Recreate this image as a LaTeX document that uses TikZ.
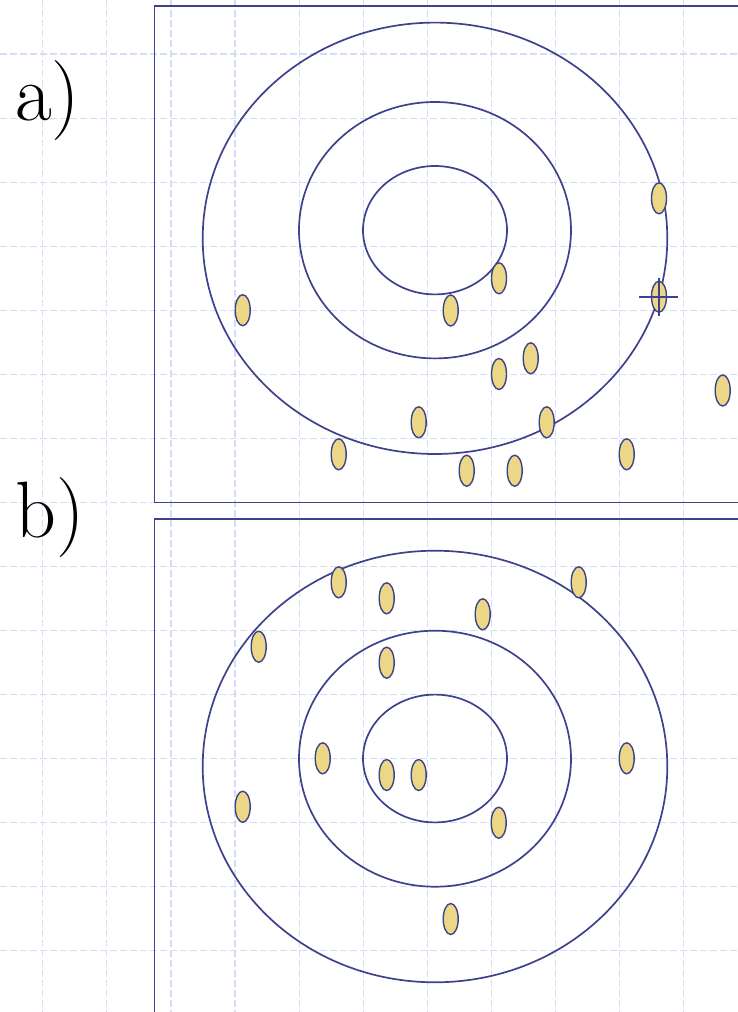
\documentclass[tikz,border=0pt]{standalone}
\usetikzlibrary{shapes.geometric}
\definecolor{ink}{RGB}{62,66,140}
\definecolor{gridc}{RGB}{212,220,248}
\definecolor{dotfill}{RGB}{236,216,132}
\tikzset{
  gridline/.style={draw=gridc, line width=1.1pt, dash pattern=on 7pt off 3pt},
  frame/.style={draw=ink, line width=1.7pt},
  ring/.style={draw=ink, line width=1.7pt},
  dot/.style={ellipse, draw=ink, fill=dotfill, line width=1.4pt, minimum width=15pt, minimum height=31pt, inner sep=0pt},
  cross/.style={draw=ink, line width=2.4pt},
  lbl/.style={anchor=base west, inner sep=0pt, font=\rmfamily\fontsize{80}{84}\selectfont}
}
\begin{document}
\begin{tikzpicture}[x=1pt,y=-1pt]
\useasboundingbox (0,0) rectangle (738,1012);
\begin{scope}
\clip (0,0) rectangle (738,1012);
% grid
\foreach \i in {0,...,11} {
  \draw[gridline] ({42.85+64.05*\i},0) -- ({42.85+64.05*\i},1012);
}
\foreach \j in {0,...,14} {
  \draw[gridline] (0,{54+64.05*\j}) -- (738,{54+64.05*\j});
}
% frames
\draw[frame] (745,6) -- (154.5,6) -- (154.5,502.5) -- (745,502.5);
\draw[frame] (745,519) -- (154.5,519) -- (154.5,1020);
% rings a
\draw[ring] (435,238.3) ellipse [x radius=232.3, y radius=215.7];
\draw[ring] (435,230.2) ellipse [x radius=136, y radius=128.2];
\draw[ring] (435,230.2) ellipse [x radius=72, y radius=64.2];
% rings b
\draw[ring] (435,766.5) ellipse [x radius=232.3, y radius=215.8];
\draw[ring] (435,758.7) ellipse [x radius=136, y radius=128];
\draw[ring] (435,758.5) ellipse [x radius=72, y radius=63.9];
% dots a
\node[dot] (a1) at (659,198.3) {};
\node[dot] (a2) at (659,296.7) {};
\node[dot] (a3) at (499,278.3) {};
\node[dot] (a4) at (450.7,310.5) {};
\node[dot] (a5) at (242.7,310.2) {};
\node[dot] (a6) at (530.7,358.3) {};
\node[dot] (a7) at (499,374) {};
\node[dot] (a8) at (722.7,390.5) {};
\node[dot] (a9) at (418.7,422.3) {};
\node[dot] (a10) at (546.7,422.3) {};
\node[dot] (a11) at (338.7,454.3) {};
\node[dot] (a12) at (626.7,454.3) {};
\node[dot] (a13) at (466.7,470.7) {};
\node[dot] (a14) at (514.7,470.7) {};
% cross on a2
\coordinate (cl) at ([xshift=-20pt]a2.center);
\coordinate (cr) at ([xshift=19pt]a2.center);
\coordinate (ct) at ([yshift=19pt]a2.center);
\coordinate (cb) at ([yshift=-19pt]a2.center);
\draw[cross] (cl) -- (cr);
\draw[cross] (ct) -- (cb);
% dots b
\node[dot] (b1) at (338.7,582.3) {};
\node[dot] (b2) at (578.7,582.3) {};
\node[dot] (b3) at (386.7,598.3) {};
\node[dot] (b4) at (482.7,614.3) {};
\node[dot] (b5) at (258.7,646.7) {};
\node[dot] (b6) at (386.7,662.7) {};
\node[dot] (b7) at (322.7,758.3) {};
\node[dot] (b8) at (626.7,758.3) {};
\node[dot] (b9) at (386.7,775) {};
\node[dot] (b10) at (418.7,775) {};
\node[dot] (b11) at (242.7,806.7) {};
\node[dot] (b12) at (498.7,822.7) {};
\node[dot] (b13) at (450.7,919) {};
\end{scope}
% labels
\node[lbl] (la) at (15,120.5) {a)};
\node[lbl] (lb) at (15,537) {b)};
\end{tikzpicture}
\end{document}
